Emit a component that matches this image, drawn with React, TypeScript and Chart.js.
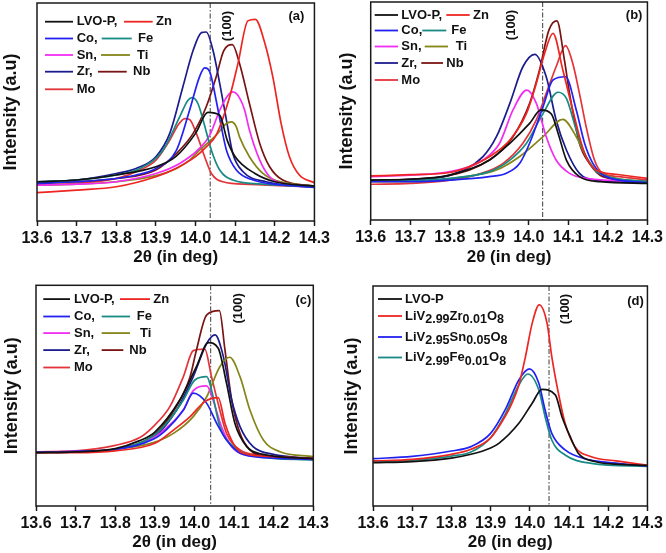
import React, { useEffect, useRef } from "react";
import { Chart, registerables } from "chart.js";

Chart.register(...registerables);

type Pt = [number, number];

// ---------- shared axis data ----------
const xTicks = [13.6, 13.7, 13.8, 13.9, 14.0, 14.1, 14.2, 14.3];
const xTickLabels = ["13.6", "13.7", "13.8", "13.9", "14.0", "14.1", "14.2", "14.3"];
const xTitle = "2θ (in deg)";
const yTitle = "Intensity (a.u)";
const peakLabel = "(100)";
const panelTags = ["(a)", "(b)", "(c)", "(d)"];
const refLines = [14.037, 14.035, 14.041, 14.049];

// ---------- panel (a) ----------
const aLVO: Pt[] = [[13.6,18.0],[13.7,18.8],[13.8,21.1],[13.9,24.9],[13.95,29.5],[14.0,40.2],[14.031,49.8],[14.061,48.5],[14.08,37.0],[14.1,29.5],[14.15,21.8],[14.2,18.0],[14.3,16.0]];
const aZn: Pt[] = [[13.6,13.0],[13.7,14.2],[13.8,15.7],[13.9,20.3],[13.95,24.1],[14.0,29.5],[14.027,34.0],[14.052,39.4],[14.086,56.9],[14.107,72.2],[14.132,91.8],[14.151,92.5],[14.174,82.1],[14.195,66.1],[14.216,44.7],[14.237,29.5],[14.262,21.1],[14.3,17.6]];
const aCo: Pt[] = [[13.6,17.3],[13.7,18.0],[13.8,19.5],[13.85,21.1],[13.9,24.1],[13.952,32.5],[13.985,50.8],[14.01,66.1],[14.023,70.2],[14.036,68.4],[14.052,55.4],[14.065,43.2],[14.078,32.5],[14.103,23.4],[14.145,18.8],[14.22,16.5],[14.3,15.4]];
const aFe: Pt[] = [[13.6,18.0],[13.7,18.8],[13.8,21.1],[13.86,24.1],[13.918,32.5],[13.96,47.8],[13.981,55.4],[13.992,56.6],[14.006,53.9],[14.019,46.3],[14.04,32.5],[14.061,23.4],[14.094,18.8],[14.178,16.8],[14.3,15.7]];
const aSn: Pt[] = [[13.6,16.5],[13.7,16.9],[13.8,18.0],[13.9,21.8],[13.96,26.4],[14.01,33.3],[14.036,39.4],[14.061,50.8],[14.082,57.7],[14.094,59.2],[14.111,56.5],[14.124,50.8],[14.136,41.7],[14.162,27.9],[14.187,20.3],[14.22,17.3],[14.3,16.0]];
const aTi: Pt[] = [[13.6,16.5],[13.7,16.9],[13.8,18.0],[13.9,20.8],[13.952,24.1],[13.985,27.9],[14.01,32.5],[14.052,39.4],[14.078,44.7],[14.09,45.5],[14.103,43.2],[14.111,38.6],[14.136,29.5],[14.17,21.8],[14.203,18.5],[14.3,16.0]];
const aZr: Pt[] = [[13.6,18.0],[13.7,18.8],[13.8,21.8],[13.85,24.1],[13.9,29.5],[13.935,40.2],[13.968,61.5],[13.994,78.3],[14.015,86.4],[14.027,86.7],[14.044,78.3],[14.061,63.1],[14.078,46.3],[14.094,31.0],[14.12,22.6],[14.178,18.0],[14.3,15.7]];
const aNb: Pt[] = [[13.6,17.3],[13.7,18.0],[13.8,19.5],[13.9,23.4],[13.952,31.0],[13.994,40.2],[14.027,52.4],[14.052,66.1],[14.071,78.0],[14.093,80.9],[14.111,72.2],[14.136,53.9],[14.162,35.6],[14.187,24.9],[14.22,18.8],[14.3,16.0]];
const aMo: Pt[] = [[13.6,16.5],[13.7,17.3],[13.8,19.5],[13.86,23.4],[13.9,27.9],[13.935,37.1],[13.956,44.0],[13.973,47.0],[13.985,46.6],[14.002,40.2],[14.023,29.5],[14.04,21.8],[14.069,18.0],[14.136,16.8],[14.3,15.7]];

// ---------- panel (b) ----------
const bLVO: Pt[] = [[13.6,18.3],[13.7,18.7],[13.8,20.6],[13.901,27.5],[13.952,35.2],[14.002,44.3],[14.031,50.5],[14.057,48.6],[14.074,39.8],[14.095,27.5],[14.128,19.9],[14.18,17.6],[14.3,16.8]];
const bZn: Pt[] = [[13.6,20.2],[13.7,20.8],[13.8,21.8],[13.85,24.5],[13.901,29.1],[13.952,36.7],[13.994,48.9],[14.019,62.7],[14.04,76.5],[14.061,85.6],[14.086,68.8],[14.111,50.5],[14.141,30.6],[14.17,22.9],[14.22,21.0],[14.3,19.1]];
const bCo: Pt[] = [[13.6,17.6],[13.7,17.6],[13.8,18.3],[13.9,19.9],[13.943,21.4],[13.977,26.0],[14.002,35.2],[14.036,52.0],[14.061,64.2],[14.093,65.7],[14.12,50.5],[14.141,35.2],[14.162,26.0],[14.195,19.9],[14.3,17.1]];
const bFe: Pt[] = [[13.6,18.3],[13.7,18.3],[13.8,19.1],[13.9,22.2],[13.952,27.5],[13.994,35.2],[14.036,48.9],[14.074,58.6],[14.095,55.8],[14.12,41.3],[14.145,29.1],[14.178,21.4],[14.3,17.6]];
const bSn: Pt[] = [[13.6,19.9],[13.7,20.6],[13.8,22.2],[13.884,27.5],[13.926,35.2],[13.96,50.5],[13.995,59.6],[14.019,53.5],[14.044,38.2],[14.069,27.5],[14.103,21.4],[14.145,19.1],[14.3,17.6]];
const bTi: Pt[] = [[13.6,17.6],[13.7,17.6],[13.841,19.9],[13.918,22.9],[13.977,29.1],[14.036,38.2],[14.086,46.2],[14.12,38.2],[14.145,29.1],[14.17,22.9],[14.22,19.1],[14.3,17.6]];
const bZr: Pt[] = [[13.6,18.3],[13.7,18.7],[13.8,20.6],[13.884,29.1],[13.918,38.2],[13.952,53.5],[13.985,70.3],[14.015,76.0],[14.044,65.7],[14.069,45.9],[14.095,32.1],[14.128,21.4],[14.17,18.3],[14.3,17.1]];
const bNb: Pt[] = [[13.6,18.3],[13.7,18.6],[13.8,20.5],[13.9,27.5],[13.96,38.2],[14.002,53.5],[14.027,68.8],[14.051,87.2],[14.071,91.3],[14.09,73.4],[14.103,58.1],[14.128,35.2],[14.153,26.0],[14.187,19.9],[14.3,17.6]];
const bMo: Pt[] = [[13.6,16.4],[13.7,16.8],[13.8,18.3],[13.88,21.4],[13.935,26.0],[13.985,35.2],[14.019,45.9],[14.044,58.1],[14.069,70.3],[14.093,80.0],[14.111,71.9],[14.128,58.1],[14.145,42.8],[14.166,27.5],[14.187,21.4],[14.229,19.9],[14.3,18.3]];

// ---------- panel (c) ----------
const cLVO: Pt[] = [[13.6,24.2],[13.7,24.5],[13.8,26.0],[13.86,29.5],[13.9,33.5],[13.963,48.0],[14.005,63.1],[14.035,74.0],[14.06,71.5],[14.081,55.6],[14.102,37.5],[14.132,26.9],[14.17,23.5],[14.3,21.5]];
const cZn: Pt[] = [[13.6,24.2],[13.7,24.2],[13.8,25.0],[13.9,28.4],[13.947,34.4],[13.989,40.5],[14.026,47.3],[14.06,49.1],[14.077,37.5],[14.098,28.4],[14.123,23.9],[14.2,22.4],[14.3,21.5]];
const cCo: Pt[] = [[13.6,24.5],[13.7,24.8],[13.8,25.7],[13.896,30.2],[13.93,34.7],[13.972,43.5],[13.997,51.1],[14.031,46.5],[14.056,37.5],[14.081,29.9],[14.115,23.9],[14.182,21.9],[14.3,21.1]];
const cFe: Pt[] = [[13.6,24.2],[13.7,24.5],[13.8,25.7],[13.896,31.7],[13.938,39.3],[13.972,48.0],[14.001,57.1],[14.031,58.6],[14.043,52.6],[14.064,36.0],[14.098,26.9],[14.148,22.7],[14.3,20.8]];
const cSn: Pt[] = [[13.6,24.5],[13.7,24.8],[13.8,25.7],[13.896,31.0],[13.93,35.5],[13.972,43.5],[13.997,52.3],[14.031,54.4],[14.047,48.0],[14.068,36.0],[14.094,26.9],[14.132,23.1],[14.3,21.5]];
const cTi: Pt[] = [[13.6,24.2],[13.7,24.5],[13.8,25.7],[13.896,28.7],[13.947,32.9],[13.997,40.5],[14.031,49.5],[14.064,63.1],[14.089,67.4],[14.115,58.6],[14.14,43.5],[14.174,29.9],[14.216,24.6],[14.3,22.4]];
const cZr: Pt[] = [[13.6,24.2],[13.7,24.5],[13.8,25.7],[13.9,31.7],[13.955,43.5],[13.997,58.6],[14.031,73.7],[14.052,77.5],[14.073,67.7],[14.094,48.0],[14.115,36.0],[14.148,26.9],[14.199,23.4],[14.3,21.5]];
const cNb: Pt[] = [[13.6,24.2],[13.7,24.5],[13.8,25.7],[13.9,32.5],[13.955,45.3],[13.989,58.6],[14.005,70.7],[14.031,86.6],[14.063,88.5],[14.077,70.7],[14.094,48.0],[14.115,32.9],[14.14,25.4],[14.182,22.4],[14.3,21.5]];
const cMo: Pt[] = [[13.6,24.5],[13.7,25.0],[13.8,27.5],[13.862,31.0],[13.896,36.0],[13.938,45.0],[13.972,58.6],[13.997,70.4],[14.026,71.1],[14.043,58.6],[14.064,43.5],[14.081,32.9],[14.115,25.4],[14.17,23.0],[14.3,21.5]];

// ---------- panel (d) ----------
const dLVO: Pt[] = [[13.6,19.7],[13.7,20.2],[13.8,21.8],[13.85,23.5],[13.9,26.4],[13.921,28.5],[13.972,37.6],[14.006,46.7],[14.031,53.0],[14.065,50.5],[14.082,40.6],[14.103,31.5],[14.124,23.9],[14.166,20.2],[14.22,19.0],[14.3,18.5]];
const dZr: Pt[] = [[13.6,20.5],[13.7,21.2],[13.8,23.5],[13.85,25.8],[13.9,31.0],[13.938,41.0],[13.955,47.0],[13.972,55.0],[13.989,68.0],[14.006,83.0],[14.024,91.4],[14.044,83.0],[14.056,67.9],[14.073,51.2],[14.09,37.6],[14.115,27.0],[14.157,22.4],[14.22,20.5],[14.3,18.5]];
const dSn: Pt[] = [[13.6,21.5],[13.7,22.6],[13.8,25.0],[13.85,27.0],[13.9,33.0],[13.938,44.0],[13.972,57.3],[13.999,62.3],[14.023,55.8],[14.039,43.6],[14.056,33.0],[14.09,25.5],[14.14,21.5],[14.22,19.5],[14.3,18.2]];
const dFe: Pt[] = [[13.6,20.0],[13.7,20.8],[13.8,22.7],[13.85,24.5],[13.9,31.0],[13.938,42.0],[13.972,55.0],[13.995,60.0],[14.023,52.7],[14.039,40.6],[14.056,30.0],[14.09,23.2],[14.157,19.4],[14.3,18.0]];

// ---------- names / legend text ----------
const seriesNames = ["LVO-P", "Zn", "Co", "Fe", "Sn", "Ti", "Zr", "Nb", "Mo"];
const legendText = ["LVO-P,", "Zn", "Co,", "Fe", "Sn,", "Ti", "Zr,", "Nb", "Mo"];
const dNames = ["LVO-P", "LiV2.99Zr0.01O8", "LiV2.95Sn0.05O8", "LiV2.99Fe0.01O8"];
// alternating normal / subscript segments
const dLegendSegs = [
  ["LVO-P"],
  ["LiV", "2.99", "Zr", "0.01", "O", "8"],
  ["LiV", "2.95", "Sn", "0.05", "O", "8"],
  ["LiV", "2.99", "Fe", "0.01", "O", "8"],
];

// ---------- styles ----------
const COLORS: Record<string, string> = {
  "LVO-P": "#111111",
  Zn: "#ee2622",
  Co: "#2222f2",
  Fe: "#178a84",
  Sn: "#f22cf2",
  Ti: "#85851a",
  Zr: "#1c1c8e",
  Nb: "#7a1414",
  Mo: "#e3343a",
};
const dColors = ["#111111", "#ee2622", "#2222f2", "#178a84"];
const FONT = '"Liberation Sans", Arial, Helvetica, sans-serif';

type LegendItem = { color: string; x0: number; x1: number; tx: number; segs: string[] };
type LegendRow = { y: number; items: LegendItem[] };

type PanelCfg = {
  left: number; top: number; w: number; h: number;
  area: { left: number; top: number; right: number; bottom: number };
  yTitlePad: number; xTitlePad: number;
  series: { name: string; color: string; data: Pt[] }[];
  refX: number; peakDx: number; peakY: number;
  tag: string; tagDx: number; tagY: number;
  legend: LegendRow[];
};

function nineLegend(rowY: number[], c1: [number, number, number], c2: [number, number, number][]): LegendRow[] {
  const rows: LegendRow[] = [];
  for (let r = 0; r < 5; r++) {
    const items: LegendItem[] = [];
    const i1 = r * 2;
    items.push({ color: COLORS[seriesNames[i1]], x0: c1[0], x1: c1[1], tx: c1[2], segs: [legendText[i1]] });
    if (r < 4) {
      const i2 = r * 2 + 1;
      const c = c2[r];
      items.push({ color: COLORS[seriesNames[i2]], x0: c[0], x1: c[1], tx: c[2], segs: [legendText[i2]] });
    }
    rows.push({ y: rowY[r], items });
  }
  return rows;
}

function nine(data: Pt[][]) {
  return seriesNames.map((n, i) => ({ name: n, color: COLORS[n], data: data[i] }));
}

const PANELS: PanelCfg[] = [
  {
    left: 0, top: 0, w: 333, h: 276,
    area: { left: 37, top: 3, right: 315, bottom: 221 },
    yTitlePad: 0, xTitlePad: 8,
    series: nine([aLVO, aZn, aCo, aFe, aSn, aTi, aZr, aNb, aMo]),
    refX: refLines[0], peakDx: 17, peakY: 23,
    tag: panelTags[0], tagDx: -10, tagY: 13.7,
    legend: nineLegend([18.7, 35.5, 52, 68.7, 86.3], [8, 36, 39.7],
      [[87, 115.7, 119], [64.7, 94.7, 101], [64, 93, 100], [61, 89.7, 96]]),
  },
  {
    left: 333, top: 0, w: 333, h: 276,
    area: { left: 37.7, top: 2, right: 315, bottom: 220 },
    yTitlePad: 3, xTitlePad: 8,
    series: nine([bLVO, bZn, bCo, bFe, bSn, bTi, bZr, bNb, bMo]),
    refX: refLines[1], peakDx: -31, peakY: 23,
    tag: panelTags[1], tagDx: -5, tagY: 13,
    legend: nineLegend([13, 28.5, 44.5, 61, 78], [4, 27.3, 30.6],
      [[75.6, 99, 102.3], [51.6, 75.6, 80.6], [54, 77.3, 85], [50.6, 72.3, 75.6]]),
  },
  {
    left: 0, top: 276, w: 333, h: 277,
    area: { left: 36, top: 9.3, right: 313.3, bottom: 230 },
    yTitlePad: 1, xTitlePad: 0,
    series: nine([cLVO, cZn, cCo, cFe, cSn, cTi, cZr, cNb, cMo]),
    refX: refLines[2], peakDx: 27.6, peakY: 23,
    tag: panelTags[2], tagDx: -2, tagY: 15.5,
    legend: nineLegend([13.8, 31.2, 47.8, 64.8, 82.2], [7.3, 34, 38],
      [[84, 114, 117.3], [65.7, 94, 100.7], [65.7, 94, 104], [65.7, 87.3, 93.3]]),
  },
  {
    left: 333, top: 276, w: 333, h: 277,
    area: { left: 40, top: 10, right: 316.7, bottom: 230 },
    yTitlePad: 8, xTitlePad: 0,
    series: [dLVO, dZr, dSn, dFe].map((d, i) => ({ name: dNames[i], color: dColors[i], data: d })),
    refX: refLines[3], peakDx: 16.7, peakY: 23,
    tag: panelTags[3], tagDx: -3.7, tagY: 15,
    legend: [13, 30, 51, 71.5].map((y, i) => ({
      y, items: [{ color: dColors[i], x0: 5, x1: 29, tx: 32, segs: dLegendSegs[i] }],
    })),
  },
];

const decorPlugin = {
  id: "decor",
  beforeDatasetsDraw(chart: any, _args: any, opts: any) {
    const { ctx, chartArea: a, scales } = chart;
    const px = scales.x.getPixelForValue(opts.refX);
    ctx.save();
    ctx.strokeStyle = "#3a3a3a";
    ctx.lineWidth = 1;
    ctx.setLineDash([5, 2, 1.5, 2]);
    ctx.beginPath();
    ctx.moveTo(px, a.top);
    ctx.lineTo(px, a.bottom);
    ctx.stroke();
    ctx.restore();
  },
  afterDraw(chart: any, _args: any, opts: any) {
    const { ctx, chartArea: a, scales } = chart;
    ctx.save();
    // frame
    ctx.strokeStyle = "#1a1a1a";
    ctx.lineWidth = 1.5;
    ctx.strokeRect(a.left, a.top, a.right - a.left, a.bottom - a.top);
    // (100) label
    const px = scales.x.getPixelForValue(opts.refX);
    ctx.fillStyle = "#111";
    ctx.font = `bold 13px ${FONT}`;
    ctx.textAlign = "center";
    ctx.textBaseline = "middle";
    ctx.save();
    ctx.translate(px + opts.peakDx, a.top + opts.peakY);
    ctx.rotate(-Math.PI / 2);
    ctx.fillText(peakLabel, 0, 0);
    ctx.restore();
    // panel tag
    ctx.textAlign = "right";
    ctx.fillText(opts.tag, a.right + opts.tagDx, a.top + opts.tagY);
    // legend
    ctx.textAlign = "left";
    for (const row of opts.legend as LegendRow[]) {
      const y = a.top + row.y;
      for (const it of row.items) {
        ctx.strokeStyle = it.color;
        ctx.lineWidth = 1.8;
        ctx.beginPath();
        ctx.moveTo(a.left + it.x0, y);
        ctx.lineTo(a.left + it.x1, y);
        ctx.stroke();
        let x = a.left + it.tx;
        it.segs.forEach((s, k) => {
          const sub = k % 2 === 1;
          ctx.font = sub ? `bold 12.5px ${FONT}` : `bold 13px ${FONT}`;
          ctx.fillText(s, x, sub ? y + 4 : y);
          x += ctx.measureText(s).width;
        });
      }
    }
    ctx.restore();
  },
};

function buildConfig(cfg: PanelCfg): any {
  return {
    type: "line",
    data: {
      datasets: cfg.series.map((s) => ({
        label: s.name,
        data: s.data.map(([x, y]) => ({ x, y })),
        borderColor: s.color,
        backgroundColor: s.color,
        borderWidth: 1.7,
        pointRadius: 0,
        fill: false,
        cubicInterpolationMode: "monotone",
      })),
    },
    plugins: [decorPlugin],
    options: {
      animation: false,
      responsive: false,
      devicePixelRatio: 1,
      layout: { padding: { left: 0, top: cfg.area.top, right: cfg.w - cfg.area.right, bottom: 0 } },
      plugins: {
        legend: { display: false },
        tooltip: { enabled: false },
        decor: {
          refX: cfg.refX, peakDx: cfg.peakDx, peakY: cfg.peakY,
          tag: cfg.tag, tagDx: cfg.tagDx, tagY: cfg.tagY, legend: cfg.legend,
        },
      },
      scales: {
        x: {
          type: "linear",
          min: 13.6,
          max: 14.3,
          afterBuildTicks: (s: any) => { s.ticks = xTicks.map((v) => ({ value: v })); },
          afterFit: (s: any) => { s.height = cfg.h - cfg.area.bottom; },
          grid: { display: true, drawOnChartArea: false, drawTicks: true, tickLength: 5, tickWidth: 1.5, tickColor: "#1a1a1a", color: "#1a1a1a" },
          border: { display: false },
          ticks: {
            padding: 3, color: "#111", maxRotation: 0, autoSkip: false,
            font: { family: FONT, size: 16, weight: "bold" },
            callback: (_v: any, i: number) => xTickLabels[i],
          },
          title: {
            display: true, text: xTitle, color: "#111",
            font: { family: FONT, size: 17, weight: "bold" },
            padding: { top: 0, bottom: cfg.xTitlePad },
          },
        },
        y: {
          type: "linear",
          min: 0,
          max: 100,
          afterFit: (s: any) => { s.width = cfg.area.left; },
          ticks: { display: false },
          grid: { display: false },
          border: { display: false },
          title: {
            display: true, text: yTitle, color: "#111",
            font: { family: FONT, size: 18, weight: "bold" },
            padding: { top: cfg.yTitlePad, bottom: 0 },
          },
        },
      },
    },
  };
}

function Panel({ cfg }: { cfg: PanelCfg }) {
  const ref = useRef<HTMLCanvasElement>(null);
  useEffect(() => {
    const chart = new Chart(ref.current as HTMLCanvasElement, buildConfig(cfg));
    return () => chart.destroy();
  }, [cfg]);
  return (
    <canvas
      ref={ref}
      width={cfg.w}
      height={cfg.h}
      style={{ position: "absolute", left: cfg.left, top: cfg.top, width: cfg.w, height: cfg.h }}
    />
  );
}

export default function App() {
  return (
    <div style={{ position: "absolute", left: 0, top: 0, width: 666, height: 553, background: "#fff" }}>
      {PANELS.map((p, i) => (
        <Panel key={i} cfg={p} />
      ))}
    </div>
  );
}
